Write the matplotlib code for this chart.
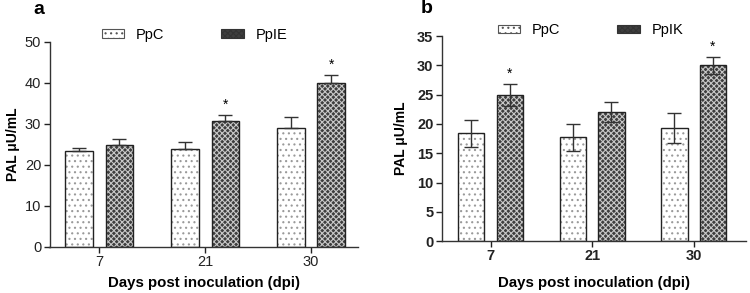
import numpy as np
import matplotlib.pyplot as plt
from matplotlib.patches import Patch

plt.rcParams['font.family'] = ['Liberation Sans', 'DejaVu Sans']
plt.rcParams['hatch.linewidth'] = 0.8

days = ['7', '21', '30']

# panel a
ppc_a = [23.3, 23.8, 29.0]
ppc_a_err = [0.9, 1.7, 2.8]
ppie_a = [24.8, 30.8, 40.0]
ppie_a_err = [1.5, 1.5, 2.0]
star_a = [False, True, True]

# panel b
ppc_b = [18.4, 17.7, 19.3]
ppc_b_err = [2.3, 2.3, 2.6]
ppik_b = [25.0, 22.1, 30.0]
ppik_b_err = [1.9, 1.7, 1.5]
star_b = [True, False, True]

DARK = '#3e3e3e'
DARK_H = '#c8c8c8'


def hatched_bars(ax, x, vals, face, hatch, hcolor, width):
    # fill + hatch first, then the black outline on top
    ax.bar(x, vals, width, color=face, hatch=hatch, edgecolor=hcolor, linewidth=0, zorder=2)
    return ax.bar(x, vals, width, fill=False, edgecolor='#222222', linewidth=1.0, zorder=3)


def panel(ax, c_vals, c_err, t_vals, t_err, stars, t_name, ymax, ystep, bold_ticks, both_err,
          leg_xy, xlab_y, ylab_x):
    x = np.arange(len(days))
    w = 0.26
    off = 0.19
    hatched_bars(ax, x - off, c_vals, 'white', '...', '#9a9a9a', w)
    hatched_bars(ax, x + off, t_vals, DARK, 'xxxxxx', DARK_H, w)
    if both_err:
        c_yerr, t_yerr = c_err, t_err
    else:
        c_yerr = [np.zeros(3), c_err]
        t_yerr = [np.zeros(3), t_err]
    ax.errorbar(x - off, c_vals, yerr=c_yerr, fmt='none', ecolor='#333333', elinewidth=1, capsize=5, zorder=4)
    ax.errorbar(x + off, t_vals, yerr=t_yerr, fmt='none', ecolor='#333333', elinewidth=1, capsize=5, zorder=4)
    for i in range(len(days)):
        if stars[i]:
            ax.text(x[i] + off, t_vals[i] + t_err[i] + ymax * 0.012, '*', ha='center', va='bottom', fontsize=10)

    # legend proxies
    h1 = Patch(facecolor='white', hatch='...', edgecolor='#555555', linewidth=0.8)
    h2 = Patch(facecolor=DARK, hatch='xxxxxx', edgecolor='#333333', linewidth=0.8)
    ax.legend([h1, h2], ['PpC', t_name], ncol=2, frameon=False, loc='center',
              bbox_to_anchor=leg_xy, columnspacing=3.9, handlelength=1.55, handleheight=0.55,
              handletextpad=0.8, fontsize=10.5, borderaxespad=0)

    ax.set_ylim(0, ymax)
    ax.set_yticks(np.arange(0, ymax + 0.1, ystep))
    ax.set_xticks(x)
    ax.set_xticklabels(days)
    ax.spines['top'].set_visible(False)
    ax.spines['right'].set_visible(False)
    for s in ['left', 'bottom']:
        ax.spines[s].set_linewidth(1.0)
        ax.spines[s].set_color('#333333')
    ax.tick_params(direction='out', length=4, width=1, labelsize=10.5, colors='#222222', pad=2)
    if bold_ticks:
        for lab in ax.get_xticklabels() + ax.get_yticklabels():
            lab.set_fontweight('bold')
    ax.set_ylabel('PAL μU/mL', fontsize=10, fontweight='bold')
    ax.yaxis.set_label_coords(ylab_x, 0.5)
    ax.set_xlabel('Days post inoculation (dpi)', fontsize=10.8, fontweight='bold')
    ax.xaxis.set_label_coords(0.5, xlab_y)


fig = plt.figure(figsize=(7.5, 2.93), dpi=100)
ax1 = fig.add_axes([0.066, 0.157, 0.411, 0.70])
ax1.set_xlim(-0.47, 2.44)
panel(ax1, ppc_a, ppc_a_err, ppie_a, ppie_a_err, star_a, 'PpIE', 50, 10, False, False,
      (0.47, 1.034), -0.143, -0.097)

ax2 = fig.add_axes([0.589, 0.177, 0.405, 0.70])
ax2.set_xlim(-0.48, 2.51)
panel(ax2, ppc_b, ppc_b_err, ppik_b, ppik_b_err, star_b, 'PpIK', 35, 5, True, True,
      (0.489, 1.029), -0.172, -0.11)

fig.text(0.044, 0.995, 'a', fontsize=14, fontweight='bold', va='top')
fig.text(0.561, 1.0, 'b', fontsize=14, fontweight='bold', va='top')

fig.savefig('out.png', dpi=100)
